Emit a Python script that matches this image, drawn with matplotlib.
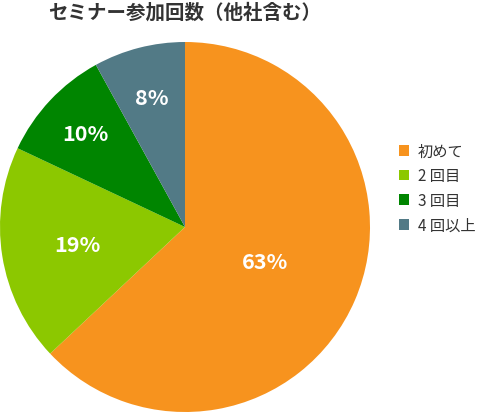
import numpy as np
import matplotlib
matplotlib.use("Agg")
import matplotlib.pyplot as plt

plt.rcParams['font.family'] = ['Noto Sans CJK JP', 'DejaVu Sans']

title = "セミナー参加回数（他社含む）"
labels = ["初めて", "2 回目", "3 回目", "4 回以上"]
values = [63, 19, 10, 8]
colors = ["#F7931E", "#8CC800", "#008500", "#527A86"]
label_radius = [0.47, 0.59, 0.74, 0.72]

fig = plt.figure(figsize=(4.78, 4.14), dpi=100)
W, H = 478, 414
ax = fig.add_axes([0, 1 / H, 370 / W, 370 / H])

wedges, texts, autotexts = ax.pie(
    values, colors=colors, startangle=90, counterclock=False,
    autopct="%d%%", radius=1.0,
    textprops=dict(color="white", fontsize=15.5, fontweight="bold"),
    wedgeprops=dict(linewidth=0),
)
for w, t, r in zip(wedges, autotexts, label_radius):
    ang = np.deg2rad((w.theta1 + w.theta2) / 2)
    t.set_position((r * np.cos(ang), r * np.sin(ang)))
ax.set_xlim(-1, 1)
ax.set_ylim(-1, 1)
ax.set_aspect("equal")

fig.text(185 / W, 1 - 13 / H, title, ha="center", va="center",
         fontsize=14, fontweight="bold", color="#333333")

leg = fig.legend(wedges, labels, loc="upper left",
                 bbox_to_anchor=(385 / W, 1 - 130 / H), frameon=False,
                 fontsize=11, handlelength=0.7, handleheight=0.7,
                 handletextpad=0.55, labelspacing=0.5, labelcolor="#333333")

fig.savefig("out.png", dpi=100)
